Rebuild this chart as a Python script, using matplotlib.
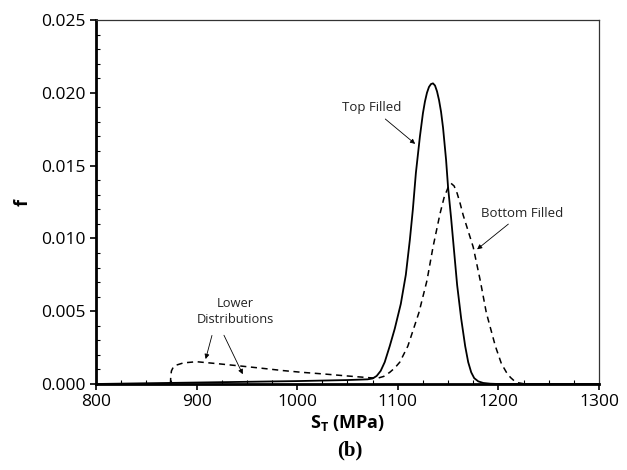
import matplotlib.pyplot as plt
from matplotlib.ticker import MultipleLocator, FormatStrFormatter

plt.rcParams['font.family'] = ['Open Sans', 'DejaVu Sans']
plt.rcParams['mathtext.fontset'] = 'custom'
plt.rcParams['mathtext.rm'] = 'Open Sans'
plt.rcParams['mathtext.bf'] = 'Open Sans:bold'

# top filled (solid)
top_x = [800, 850, 900, 950, 1000, 1050, 1070, 1075, 1079, 1083, 1087, 1092,
         1097, 1103, 1108, 1112, 1115, 1118, 1122, 1125, 1127, 1129, 1131,
         1133, 1135, 1137, 1139, 1141, 1143, 1145, 1148, 1150, 1153, 1156,
         1159, 1163, 1167, 1170, 1173, 1176, 1180, 1185, 1192, 1200, 1300]
top_f = [0.0, 0.00005, 0.0001, 0.00015, 0.0002, 0.00027, 0.00032, 0.00038,
         0.00055, 0.0009, 0.0015, 0.0026, 0.0038, 0.0055, 0.0075, 0.0099,
         0.0120, 0.0145, 0.0170, 0.0186, 0.0194, 0.0200, 0.0204, 0.0206,
         0.02065, 0.0205, 0.0201, 0.0195, 0.0187, 0.0176, 0.0154, 0.0135,
         0.0114, 0.0091, 0.0068, 0.0045, 0.0026, 0.0015, 0.0008, 0.0004,
         0.00018, 0.00007, 0.00002, 0.0, 0.0]

# bottom filled (dashed)
bot_x = [874, 874.3, 875, 877, 880, 887, 900, 920, 943, 965, 986, 1005,
         1026, 1050, 1072, 1080, 1086, 1092, 1097, 1102, 1110, 1121, 1129,
         1135, 1142, 1146, 1150, 1153, 1156, 1159, 1162, 1165, 1175, 1182,
         1188, 1197, 1203, 1208, 1212, 1216, 1220, 1225]
bot_f = [0.0, 0.0005, 0.0009, 0.00118, 0.0013, 0.00145, 0.00153, 0.0014,
         0.00124, 0.00108, 0.00092, 0.0008, 0.00069, 0.00055, 0.00043,
         0.0004, 0.00052, 0.0008, 0.0011, 0.0015, 0.0026, 0.0049, 0.0071,
         0.0094, 0.0117, 0.0128, 0.0135, 0.01378, 0.0136, 0.0131, 0.0124,
         0.0116, 0.0094, 0.0071, 0.0049, 0.0026, 0.0014, 0.0008, 0.00045,
         0.0002, 0.00008, 0.00002]

fig = plt.figure(figsize=(6.27, 4.70), dpi=100)
ax = fig.add_axes([0.1531, 0.183, 0.8022, 0.7744])

ax.plot(top_x, top_f, color='black', lw=1.3)
ax.plot(bot_x, bot_f, color='black', lw=1.1, dashes=(4, 3))

ax.set_xlim(800, 1300)
ax.set_ylim(0, 0.025)
ax.xaxis.set_major_locator(MultipleLocator(100))
ax.xaxis.set_minor_locator(MultipleLocator(25))
ax.yaxis.set_major_locator(MultipleLocator(0.005))
ax.yaxis.set_minor_locator(MultipleLocator(0.001))
ax.yaxis.set_major_formatter(FormatStrFormatter('%.3f'))
ax.tick_params(which='major', direction='out', length=4, width=1.2,
               labelsize=12.5, colors='black')
ax.tick_params(which='minor', direction='in', length=3, width=0.8)

for s in ['left', 'bottom']:
    ax.spines[s].set_linewidth(2)
for s in ['top', 'right']:
    ax.spines[s].set_linewidth(0.9)
    ax.spines[s].set_color('#333333')

ax.set_ylabel('f', fontsize=13, fontweight='bold')
ax.yaxis.set_label_coords(-0.128, 0.5)
ax.set_xlabel(r'$\mathbf{S}_\mathbf{T}$ (MPa)', fontsize=13,
              fontweight='bold', labelpad=2)
fig.text(0.558, 0.03, '(b)', family='Liberation Serif', fontweight='bold',
         fontsize=15, ha='center')

arrow = dict(arrowstyle='-|>', color='black', lw=0.6, mutation_scale=7)
ax.annotate('Top Filled', xy=(1119.4, 0.01637), xytext=(1074.4, 0.01896),
            fontsize=9.5, ha='center', va='center', arrowprops=arrow,
            color='#222222')
ax.annotate('Bottom Filled', xy=(1176.7, 0.00913), xytext=(1223.5, 0.01174),
            fontsize=9.5, ha='center', va='center', arrowprops=arrow,
            color='#222222')
ax.text(938.2, 0.00495, 'Lower\nDistributions', fontsize=9.3, ha='center',
        va='center', linespacing=1.3, color='#222222')
ax.annotate('', xy=(908.3, 0.00153), xytext=(916, 0.00352), arrowprops=arrow)
ax.annotate('', xy=(947.1, 0.0005), xytext=(926, 0.00352), arrowprops=arrow)

fig.savefig('out.png', dpi=100)
